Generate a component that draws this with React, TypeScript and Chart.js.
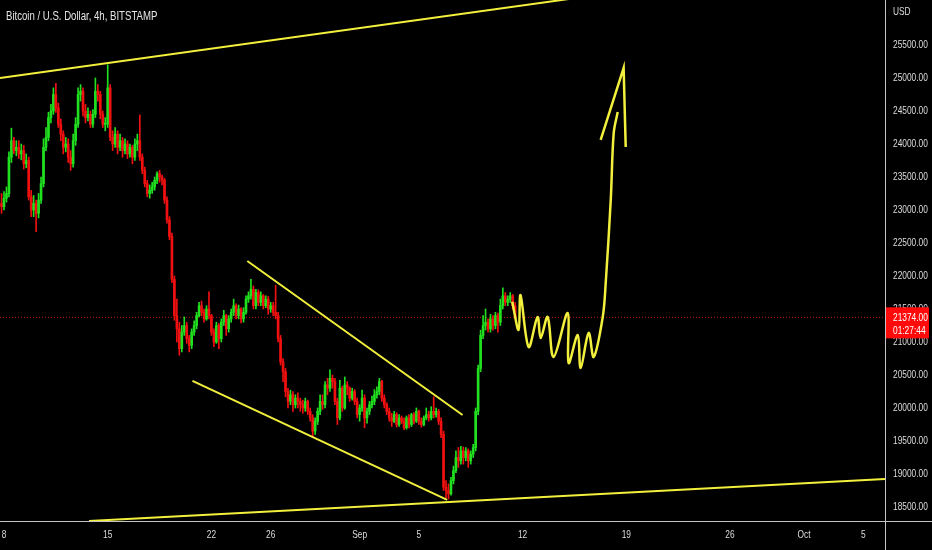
import { useEffect, useRef } from 'react';
import { Chart, registerables } from 'chart.js';

Chart.register(...registerables);

// x values are days counted from Aug 8 00:00, one candle every 4h starting Aug 7 20:00
const firstCandleDay = -1 / 6;
const candleStep = 1 / 6;
const firstOpen = 23100;

const closes = [
  23050,
  23180, 23250, 23800, 24050, 23900, 23950, // Aug 8
  23850, 23900, 23700, 23750, 23200, 23000, // Aug 9
  23100, 22950, 23150, 23400, 23950, 24100, // Aug 10
  24400, 24500, 24750, 24550, 24300, 24150, // Aug 11
  23950, 24000, 23800, 23700, 24050, 24300, // Aug 12
  24750, 24800, 24500, 24400, 24450, 24300, // Aug 13
  24450, 24800, 24750, 24450, 24300, 24300, // Aug 14
  24850, 24100, 24000, 24150, 23950, 24050, // Aug 15
  23900, 24000, 23850, 23950, 23800, 24000, // Aug 16
  24050, 23800, 23600, 23400, 23250, 23300, // Aug 17
  23350, 23450, 23550, 23500, 23450, 23150, // Aug 18
  22850, 22600, 21950, 21400, 21200, 20900, // Aug 19
  21150, 21250, 21050, 20950, 21150, 21250, // Aug 20
  21400, 21550, 21450, 21350, 21500, 21400, // Aug 21
  21150, 21000, 21250, 21050, 21300, 21400, // Aug 22
  21200, 21350, 21450, 21550, 21400, 21500, // Aug 23
  21350, 21450, 21650, 21700, 21800, 21550, // Aug 24
  21750, 21600, 21700, 21550, 21650, 21500, // Aug 25
  21550, 21450, 21400, 21050, 20700, 20550, // Aug 26
  20250, 20100, 20200, 20050, 20150, 20100, // Aug 27
  20050, 20000, 20100, 19950, 19850, 19650, // Aug 28
  19800, 19950, 20100, 20050, 20350, 20300, // Aug 29
  20450, 20400, 20100, 19850, 20300, 20000, // Aug 30
  20350, 20300, 20150, 20250, 20100, 19900, // Aug 31
  20000, 20150, 19850, 19950, 20050, 20100, // Sep 1
  20200, 20250, 20400, 20150, 20050, 19950, // Sep 2
  19850, 19800, 19900, 19750, 19850, 19800, // Sep 3
  19700, 19850, 19750, 19900, 19800, 19950, // Sep 4
  19800, 19750, 19850, 19900, 19850, 19950, // Sep 5
  19900, 19950, 19800, 19600, 18800, 18750, // Sep 6
  18700, 18900, 19050, 19250, 19200, 19350, // Sep 7
  19250, 19350, 19200, 19300, 19400, 19950, // Sep 8
  20600, 21100, 21250, 21300, 21200, 21350, // Sep 9
  21250, 21400, 21300, 21550, 21700, 21600, // Sep 10
  21650, 21700, 21550, 21374, // Sep 11
];

const highs = [
  23250,
  23280, 23350, 23880, 24240, 24100, 24050,
  24050, 24000, 23980, 23850, 23800, 23300,
  23220, 23150, 23250, 23500, 24080, 24250,
  24480, 24600, 24850, 24920, 24620, 24380,
  24200, 24100, 24080, 23900, 24150, 24400,
  24850, 24900, 24850, 24600, 24550, 24500,
  24520, 25000, 24900, 24800, 24500, 24400,
  25200, 24900, 24200, 24250, 24200, 24150,
  24100, 24080, 24050, 24000, 23980, 24080,
  24150, 24440, 23850, 23650, 23450, 23380,
  23420, 23500, 23580, 23600, 23530, 23480,
  23200, 22900, 22650, 22000, 21650, 21300,
  21250, 21380, 21300, 21100, 21200, 21320,
  21450, 21600, 21620, 21500, 21550, 21760,
  21420, 21200, 21300, 21280, 21350, 21480,
  21420, 21400, 21500, 21650, 21580, 21560,
  21520, 21520, 21700, 21760, 21950, 21850,
  21800, 21790, 21760, 21720, 21700, 21690,
  21600, 21600, 21860, 21450, 21100, 20750,
  20600, 20300, 20270, 20250, 20200, 20230,
  20150, 20120, 20150, 20120, 20000, 19900,
  19850, 20000, 20200, 20200, 20400, 20450,
  20580, 20500, 20450, 20150, 20420, 20330,
  20470, 20400, 20320, 20300, 20280, 20150,
  20050, 20270, 20200, 20000, 20100, 20180,
  20280, 20320, 20450, 20420, 20200, 20080,
  20000, 19920, 19950, 19930, 19900, 19880,
  19850, 19880, 19900, 19920, 19930, 20000,
  19970, 19850, 19880, 20000, 19950, 20020,
  20170, 20000, 19980, 19850, 19650, 18900,
  18850, 18950, 19120, 19350, 19400, 19420,
  19410, 19400, 19380, 19350, 19450, 20000,
  20650, 21180, 21400, 21500, 21350, 21420,
  21400, 21450, 21440, 21650, 21820, 21750,
  21700, 21750, 21720, 21600,
];

const lows = [
  22950,
  23000, 23120, 23200, 23720, 23850, 23820,
  23780, 23760, 23620, 23640, 23150, 22900,
  22900, 22670, 22880, 23100, 23350, 23900,
  24050, 24320, 24450, 24480, 24250, 24050,
  23850, 23880, 23720, 23600, 23650, 23980,
  24250, 24650, 24420, 24320, 24350, 24250,
  24250, 24400, 24650, 24380, 24250, 24200,
  24250, 24050, 23900, 23950, 23850, 23900,
  23800, 23850, 23780, 23800, 23700, 23750,
  23900, 23750, 23550, 23350, 23200, 23180,
  23250, 23300, 23400, 23420, 23380, 23100,
  22800, 22550, 21900, 21330, 21000, 20800,
  20850, 21100, 20980, 20850, 20900, 21100,
  21200, 21380, 21400, 21300, 21330, 21350,
  21100, 20930, 20980, 20900, 21000, 21250,
  21100, 21150, 21300, 21400, 21350, 21350,
  21290, 21300, 21420, 21600, 21650, 21500,
  21500, 21550, 21550, 21500, 21520, 21420,
  21450, 21400, 21350, 21000, 20650, 20400,
  20170, 20000, 20050, 19950, 20000, 20000,
  19950, 19920, 19950, 19900, 19800, 19560,
  19600, 19750, 19900, 19980, 20000, 20200,
  20250, 20300, 20050, 19750, 19820, 19950,
  19980, 20200, 20100, 20120, 20050, 19850,
  19800, 19950, 19700, 19770, 19900, 20000,
  20050, 20150, 20200, 20100, 20000, 19900,
  19800, 19720, 19780, 19710, 19720, 19760,
  19670, 19680, 19700, 19720, 19760, 19780,
  19750, 19710, 19730, 19820, 19800, 19820,
  19850, 19860, 19750, 19550, 18750, 18640,
  18620, 18680, 18850, 19020, 19100, 19150,
  19150, 19200, 19100, 19150, 19250, 19350,
  19900, 20550, 21050, 21180, 21150, 21150,
  21180, 21200, 21150, 21250, 21500, 21550,
  21550, 21600, 21500, 21350,
];

const xTickDays = [0, 7, 14, 18, 24, 28, 35, 42, 49, 54, 58];
const xTickLabels = ['8', '15', '22', '26', 'Sep', '5', '12', '19', '26', 'Oct', '5'];
const yTicks = [18500, 19000, 19500, 20000, 20500, 21000, 21500, 22000, 22500, 23000, 23500, 24000, 24500, 25000, 25500, 26000];

// drawn trendlines: [day, price] end points
const topLine = [[-0.27, 25000], [38.6, 26212]];
const wedgeUpper = [[16.42, 22227], [30.95, 19895]];
const wedgeLower = [[12.72, 20410], [29.91, 18607]];
const bottomLine = [[5.74, 18288], [59.46, 18925]];

// hand drawn forecast
const forecastDays = [34.3, 34.73, 34.86, 35.41, 36.01, 36.22, 36.69, 37.09, 38.04, 38.11, 38.72, 38.92, 39.46, 39.8, 40.41, 40.61, 40.95, 41.15, 41.42];
const forecastPrices = [21611, 21182, 21712, 20925, 21379, 21061, 21379, 20773, 21440, 20682, 21106, 20607, 21137, 20773, 21379, 21894, 23152, 24167, 24485];
const arrowDays = [40.27, 41.82, 41.96];
const arrowPrices = [24061, 25152, 23955];

const xMin = -0.27;
const xMax = 59.46;
const yMin = 18288;
const yMax = 26182;

const GREEN = '#20e020';
const RED = '#f01010';
const YELLOW = '#f2f03c';
const AXIS_TEXT = '#dcdcdc';
const FONT = '"Liberation Sans", Arial, sans-serif';

const toPoints = (pairs: number[][]) => pairs.map(([x, y]) => ({ x, y }));

// TradingView's UI font is narrow; squeeze a regular sans horizontally
const narrowText = (ctx: CanvasRenderingContext2D, text: string, x: number, y: number, align: CanvasTextAlign, squeeze = 0.76) => {
  ctx.save();
  ctx.translate(x, y);
  ctx.scale(squeeze, 1);
  ctx.textAlign = align;
  ctx.fillText(text, 0, 0);
  ctx.restore();
};

const App = () => {
  const canvasRef = useRef<HTMLCanvasElement | null>(null);

  useEffect(() => {
    const canvas = canvasRef.current;
    if (!canvas) return;

    const opens = closes.map((_, i) => (i === 0 ? firstOpen : closes[i - 1]));
    const xs = closes.map((_, i) => firstCandleDay + i * candleStep);
    const colors = closes.map((c, i) => (c >= opens[i] ? GREEN : RED));
    const lastClose = closes[closes.length - 1];

    const overlay = {
      id: 'tvOverlay',
      beforeDraw(chart: any) {
        const { ctx, width, height } = chart;
        ctx.save();
        ctx.fillStyle = '#000';
        ctx.fillRect(0, 0, width, height);
        ctx.restore();
      },
      afterDraw(chart: any) {
        const { ctx, chartArea, width, height } = chart;
        const xScale = chart.scales.x;
        const yScale = chart.scales.y;
        ctx.save();
        // axis frame
        ctx.strokeStyle = '#c4c4c4';
        ctx.lineWidth = 1;
        ctx.beginPath();
        ctx.moveTo(chartArea.right + 0.5, 0);
        ctx.lineTo(chartArea.right + 0.5, height);
        ctx.moveTo(0, chartArea.bottom + 0.5);
        ctx.lineTo(width, chartArea.bottom + 0.5);
        ctx.stroke();

        // axis labels
        ctx.fillStyle = AXIS_TEXT;
        ctx.font = `11px ${FONT}`;
        ctx.textBaseline = 'middle';
        xScale.ticks.forEach((t: any) => {
          const idx = xTickDays.indexOf(t.value);
          narrowText(ctx, xTickLabels[idx], xScale.getPixelForValue(t.value), chartArea.bottom + 14, 'center');
        });
        yScale.ticks.forEach((t: any) => {
          const label = t.value === 26000 ? 'USD' : t.value.toFixed(2);
          narrowText(ctx, label, chartArea.right + 8, yScale.getPixelForValue(t.value), 'left');
        });

        // symbol title
        ctx.fillStyle = '#e6e6e6';
        ctx.font = `12px ${FONT}`;
        narrowText(ctx, 'Bitcoin / U.S. Dollar, 4h, BITSTAMP', 6, 17, 'left', 0.8);

        // last price label
        const py = yScale.getPixelForValue(lastClose);
        ctx.fillStyle = '#ff0a0a';
        ctx.fillRect(chartArea.right + 1, py - 10, 43, 31);
        ctx.fillStyle = '#ffffff';
        ctx.font = `11px ${FONT}`;
        narrowText(ctx, lastClose.toFixed(2), chartArea.right + 8, py + 1, 'left');
        narrowText(ctx, '01:27:44', chartArea.right + 8, py + 14, 'left');
        ctx.restore();
      },
    };

    const lineStyle = {
      type: 'line' as const,
      borderColor: YELLOW,
      borderWidth: 2,
      pointRadius: 0,
      fill: false,
      order: 0,
    };

    const chart = new Chart(canvas, {
      type: 'bar',
      data: {
        datasets: [
          { ...lineStyle, data: toPoints(topLine) },
          { ...lineStyle, data: toPoints(wedgeUpper) },
          { ...lineStyle, data: toPoints(wedgeLower) },
          { ...lineStyle, data: toPoints(bottomLine) },
          {
            ...lineStyle,
            borderWidth: 2.5,
            tension: 0.35,
            data: forecastDays.map((x, i) => ({ x, y: forecastPrices[i] })),
          },
          {
            ...lineStyle,
            borderWidth: 2.5,
            data: arrowDays.map((x, i) => ({ x, y: arrowPrices[i] })),
          },
          {
            type: 'bar',
            data: xs.map((x, i) => ({ x, y: [opens[i], closes[i]] })),
            backgroundColor: colors,
            barThickness: 2,
            minBarLength: 1,
            grouped: false,
            order: 1,
          },
          {
            type: 'bar',
            data: xs.map((x, i) => ({
              x,
              y: [Math.min(lows[i], opens[i], closes[i]), Math.max(highs[i], opens[i], closes[i])],
            })),
            backgroundColor: colors,
            barThickness: 1,
            grouped: false,
            order: 2,
          },
          {
            type: 'line',
            data: [
              { x: xMin, y: lastClose },
              { x: xMax, y: lastClose },
            ],
            borderColor: '#c81414',
            borderWidth: 1,
            borderDash: [1, 2],
            pointRadius: 0,
            order: 3,
          },
        ],
      },
      options: {
        animation: false,
        responsive: false,
        events: [],
        layout: { padding: 0 },
        plugins: {
          legend: { display: false },
          tooltip: { enabled: false },
        },
        scales: {
          x: {
            type: 'linear',
            min: xMin,
            max: xMax,
            offset: false,
            grid: { display: false, drawTicks: false },
            border: { display: false },
            afterFit: (s: any) => {
              s.height = 29;
            },
            afterBuildTicks: (s: any) => {
              s.ticks = xTickDays.map((v) => ({ value: v }));
            },
            ticks: { display: false },
          },
          y: {
            type: 'linear',
            position: 'right',
            min: yMin,
            max: yMax,
            grid: { display: false, drawTicks: false },
            border: { display: false },
            afterFit: (s: any) => {
              s.width = 47;
            },
            afterBuildTicks: (s: any) => {
              s.ticks = yTicks.map((v) => ({ value: v }));
            },
            ticks: { display: false },
          },
        },
      },
      plugins: [overlay],
    } as any);

    return () => {
      chart.destroy();
    };
  }, []);

  return (
    <div style={{ position: 'fixed', left: 0, top: 0, width: 932, height: 550, background: '#000' }}>
      <canvas ref={canvasRef} width={932} height={550} />
    </div>
  );
};

export default App;
